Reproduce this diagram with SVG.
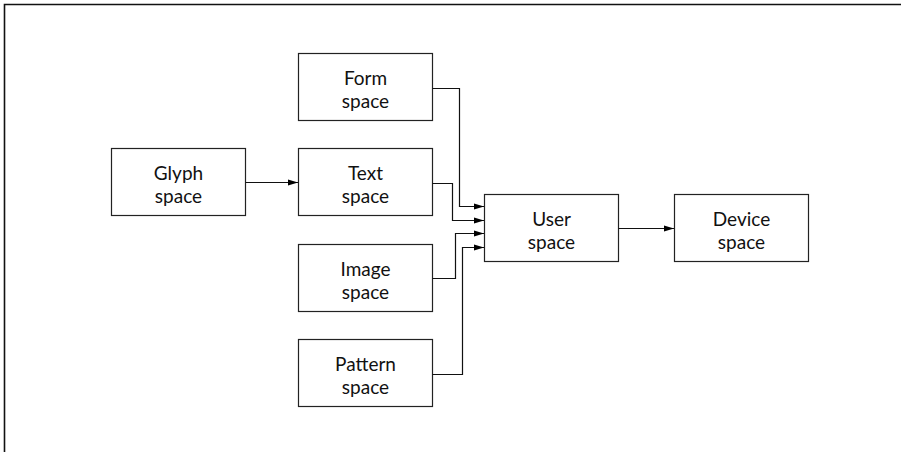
<svg xmlns="http://www.w3.org/2000/svg" width="901" height="452" viewBox="0 0 901 452">
<defs>
<marker id="arr" markerWidth="10" markerHeight="8" refX="10" refY="4" orient="auto" markerUnits="userSpaceOnUse">
<path d="M0,1 L10,4 L0,7 Z" fill="#000"/>
</marker>
<style>
.box{fill:#fff;stroke:#222;stroke-width:1.2}
.lbl{font-family:Lato,"Open Sans",sans-serif;font-size:19px;fill:#111;text-anchor:middle}
.con{fill:none;stroke:#111;stroke-width:1.2;marker-end:url(#arr)}
</style>
</defs>
<rect width="901" height="452" fill="#fff"/>
<path d="M4.5,452 V4.5 H901" fill="none" stroke="#111" stroke-width="1.6"/>
<g id="glyph"><rect class="box" x="111.5" y="148.5" width="134" height="67"/><text class="lbl" x="178.5" y="180">Glyph</text><text class="lbl" x="178.5" y="203">space</text></g>
<g id="form"><rect class="box" x="298.5" y="53.5" width="134" height="67"/><text class="lbl" x="365.5" y="85">Form</text><text class="lbl" x="365.5" y="108">space</text></g>
<g id="text"><rect class="box" x="298.5" y="148.5" width="134" height="67"/><text class="lbl" x="365.5" y="180">Text</text><text class="lbl" x="365.5" y="203">space</text></g>
<g id="image"><rect class="box" x="298.5" y="244.5" width="134" height="67"/><text class="lbl" x="365.5" y="276">Image</text><text class="lbl" x="365.5" y="299">space</text></g>
<g id="pattern"><rect class="box" x="298.5" y="339.5" width="134" height="67"/><text class="lbl" x="365.5" y="371">Pattern</text><text class="lbl" x="365.5" y="394">space</text></g>
<g id="user"><rect class="box" x="484.5" y="194.5" width="134" height="67"/><text class="lbl" x="551.5" y="226">User</text><text class="lbl" x="551.5" y="249">space</text></g>
<g id="device"><rect class="box" x="674.5" y="194.5" width="134" height="67"/><text class="lbl" x="741.5" y="226">Device</text><text class="lbl" x="741.5" y="249">space</text></g>
<g id="connectors">
<path class="con" d="M245.5,182.5 H298"/>
<path class="con" d="M432.5,88.5 H459.5 V206.5 H484"/>
<path class="con" d="M432.5,183.5 H452.5 V220.5 H484"/>
<path class="con" d="M432.5,278.5 H455.5 V233.5 H484"/>
<path class="con" d="M432.5,374.5 H462.5 V247.5 H484"/>
<path class="con" d="M618.5,228.5 H674"/>
</g>
</svg>
